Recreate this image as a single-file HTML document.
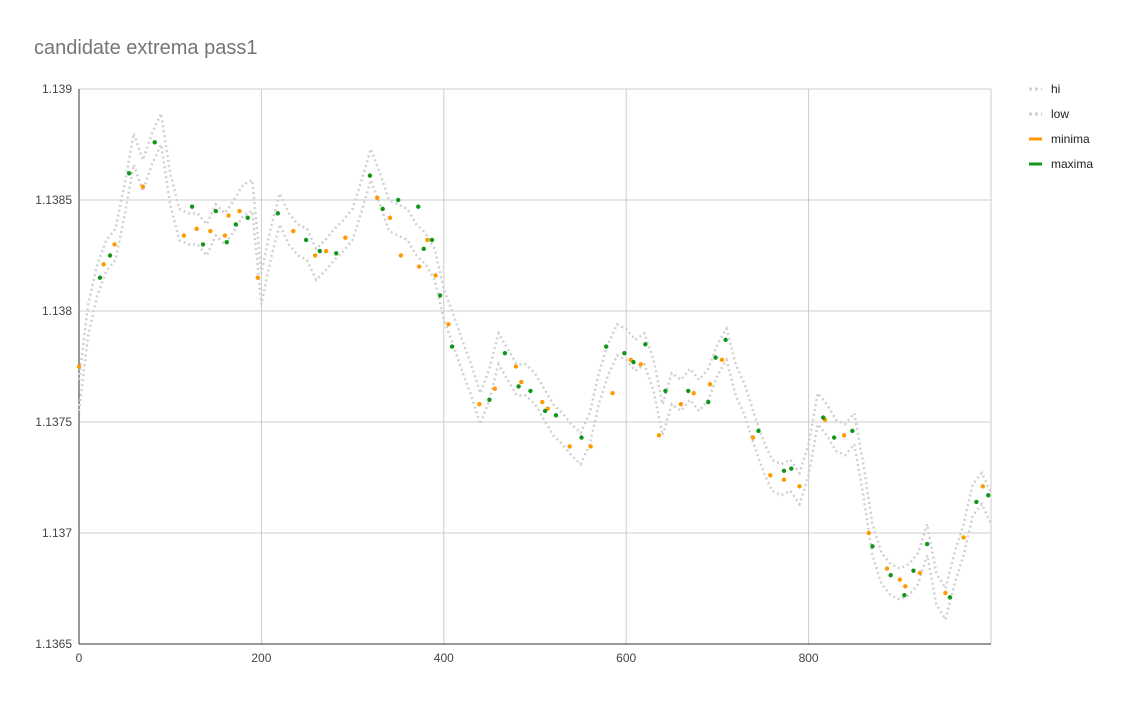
<!DOCTYPE html>
<html><head><meta charset="utf-8"><style>
body{margin:0;background:#fff;font-family:"Liberation Sans",Arial,sans-serif}
svg text{font-family:"Liberation Sans",Arial,sans-serif}
</style></head><body>
<svg id="c" width="1132" height="700" xmlns="http://www.w3.org/2000/svg">
<rect width="1132" height="700" fill="#fff"/>
<text x="34" y="54" font-size="20" fill="#757575">candidate extrema pass1</text>
<g id="grid"></g>
<g id="series"></g>
<g id="legend"></g>
</svg>
<script>
const xTicks=[0,200,400,600,800];
const yTicks=[1.1365,1.137,1.1375,1.138,1.1385,1.139];
const yTickLabels=["1.1365","1.137","1.1375","1.138","1.1385","1.139"];
const seriesX=[0,10,20,30,40,50,60,70,80,90,100,110,120,130,140,150,160,170,180,190,200,210,220,230,240,250,260,270,280,290,300,310,320,330,340,350,360,370,380,390,400,410,420,430,440,450,460,470,480,490,500,510,520,530,540,550,560,570,580,590,600,610,620,630,640,650,660,670,680,690,700,710,720,730,740,750,760,770,780,790,800,810,820,830,840,850,860,870,880,890,900,910,920,930,940,950,960,970,980,990,1000];
const hi=[1.13769,1.13803,1.13821,1.13832,1.13837,1.13857,1.13880,1.13868,1.13880,1.13889,1.13862,1.13846,1.13844,1.13844,1.13839,1.13848,1.13844,1.13850,1.13857,1.13859,1.13817,1.13837,1.13853,1.13844,1.13839,1.13837,1.13828,1.13832,1.13837,1.13841,1.13846,1.13859,1.13873,1.13862,1.13850,1.13848,1.13846,1.13839,1.13835,1.13828,1.13810,1.13799,1.13787,1.13776,1.13763,1.13774,1.13790,1.13783,1.13776,1.13776,1.13772,1.13765,1.13758,1.13754,1.13749,1.13745,1.13754,1.13772,1.13785,1.13794,1.13792,1.13787,1.13790,1.13778,1.13758,1.13772,1.13769,1.13774,1.13769,1.13774,1.13785,1.13792,1.13776,1.13767,1.13754,1.13742,1.13733,1.13731,1.13733,1.13727,1.13740,1.13763,1.13758,1.13751,1.13749,1.13754,1.13731,1.13704,1.13691,1.13686,1.13684,1.13686,1.13691,1.13704,1.13682,1.13675,1.13691,1.13704,1.13722,1.13727,1.13718];
const low=[1.13755,1.13789,1.13807,1.13818,1.13823,1.13843,1.13866,1.13854,1.13866,1.13875,1.13848,1.13832,1.13830,1.13830,1.13825,1.13834,1.13830,1.13836,1.13843,1.13845,1.13803,1.13823,1.13839,1.13830,1.13825,1.13823,1.13814,1.13818,1.13823,1.13827,1.13832,1.13845,1.13859,1.13848,1.13836,1.13834,1.13832,1.13825,1.13821,1.13814,1.13796,1.13785,1.13773,1.13762,1.13749,1.13760,1.13776,1.13769,1.13762,1.13762,1.13758,1.13751,1.13744,1.13740,1.13735,1.13731,1.13740,1.13758,1.13771,1.13780,1.13778,1.13773,1.13776,1.13764,1.13744,1.13758,1.13755,1.13760,1.13755,1.13760,1.13771,1.13778,1.13762,1.13753,1.13740,1.13728,1.13719,1.13717,1.13719,1.13713,1.13726,1.13749,1.13744,1.13737,1.13735,1.13740,1.13717,1.13690,1.13677,1.13672,1.13670,1.13672,1.13677,1.13690,1.13668,1.13661,1.13677,1.13690,1.13708,1.13713,1.13704];
const maxX=[23,34,55,83,124,136,150,162,172,185,218,249,264,282,319,333,350,372,378,387,396,409,450,467,482,495,511,523,551,578,598,608,621,643,668,690,698,709,745,773,781,816,828,848,870,890,905,915,930,955,984,997];
const maxY=[1.13815,1.13825,1.13862,1.13876,1.13847,1.13830,1.13845,1.13831,1.13839,1.13842,1.13844,1.13832,1.13827,1.13826,1.13861,1.13846,1.13850,1.13847,1.13828,1.13832,1.13807,1.13784,1.13760,1.13781,1.13766,1.13764,1.13755,1.13753,1.13743,1.13784,1.13781,1.13777,1.13785,1.13764,1.13764,1.13759,1.13779,1.13787,1.13746,1.13728,1.13729,1.13752,1.13743,1.13746,1.13694,1.13681,1.13672,1.13683,1.13695,1.13671,1.13714,1.13717];
const minX=[0,27,39,70,115,129,144,160,164,176,196,235,259,271,292,327,341,353,373,382,391,405,439,456,479,485,508,514,538,561,585,605,616,636,660,674,692,705,739,758,773,790,818,839,866,886,900,906,922,950,970,991];
const minY=[1.13775,1.13821,1.13830,1.13856,1.13834,1.13837,1.13836,1.13834,1.13843,1.13845,1.13815,1.13836,1.13825,1.13827,1.13833,1.13851,1.13842,1.13825,1.13820,1.13832,1.13816,1.13794,1.13758,1.13765,1.13775,1.13768,1.13759,1.13756,1.13739,1.13739,1.13763,1.13778,1.13776,1.13744,1.13758,1.13763,1.13767,1.13778,1.13743,1.13726,1.13724,1.13721,1.13751,1.13744,1.13700,1.13684,1.13679,1.13676,1.13682,1.13673,1.13698,1.13721];

const NS="http://www.w3.org/2000/svg";
const L=79,R=991,T=89,B=644;
const xs=v=>L+(v/1000)*(R-L);
const ys=v=>B-(v-1.1365)/(1.139-1.1365)*(B-T);
function mk(tag,attrs,parent){const e=document.createElementNS(NS,tag);for(const k in attrs)e.setAttribute(k,attrs[k]);parent.appendChild(e);return e;}
const grid=document.getElementById('grid'),ser=document.getElementById('series'),leg=document.getElementById('legend');
yTicks.forEach((t,i)=>{
  const ln=mk('line',{x1:L,x2:R,y1:ys(t),y2:ys(t),stroke:'#cccccc','stroke-width':1},grid);
  
  
  const tx=mk('text',{x:72,y:ys(t)+4,'text-anchor':'end','font-size':12,fill:'#444'},grid);
  tx.textContent=yTickLabels[i];
  
  
});
xTicks.forEach(t=>{
  if(t>0){const ln=mk('line',{x1:xs(t),x2:xs(t),y1:T,y2:B,stroke:'#cccccc','stroke-width':1},grid);
  
  }
  const tx=mk('text',{x:xs(t),y:662,'text-anchor':'middle','font-size':12,fill:'#444'},grid);
  tx.textContent=String(t);
  
  
});
const rl=mk('line',{x1:R,x2:R,y1:T,y2:B,stroke:'#cccccc'},grid);


const ax=mk('line',{x1:L,x2:L,y1:T,y2:B,stroke:'#333','stroke-width':1},grid);


const bx=mk('line',{x1:L,x2:R,y1:B,y2:B,stroke:'#333','stroke-width':1},grid);



function pl(arr,name){
  const p=mk('polyline',{points:arr.map((v,i)=>xs(seriesX[i])+','+ys(v)).join(' '),fill:'none',stroke:'#d0d0d0','stroke-width':2.5,'stroke-dasharray':'2,3'},ser);
  
  
}
pl(hi,'hi-line');pl(low,'low-line');
minX.forEach((x,i)=>{const c=mk('circle',{cx:xs(x),cy:ys(minY[i]),r:2.2,fill:'#ff9900'},ser);
  
  });
maxX.forEach((x,i)=>{const c=mk('circle',{cx:xs(x),cy:ys(maxY[i]),r:2.2,fill:'#109618'},ser);
  
  });

const legItems=[["hi","#d0d0d0",true],["low","#d0d0d0",true],["minima","#ff9900",false],["maxima","#109618",false]];
legItems.forEach((it,i)=>{
  const y=89+i*25;
  const g=mk('g',{},leg);
  
  
  mk('line',{x1:1029,x2:1042,y1:y,y2:y,stroke:it[1],'stroke-width':3,'stroke-dasharray':it[2]?'3,3':'none'},g);
  const t=mk('text',{x:1051,y:y+4,'font-size':12,fill:'#222'},g);
  t.textContent=it[0];
});
</script>
</body></html>
